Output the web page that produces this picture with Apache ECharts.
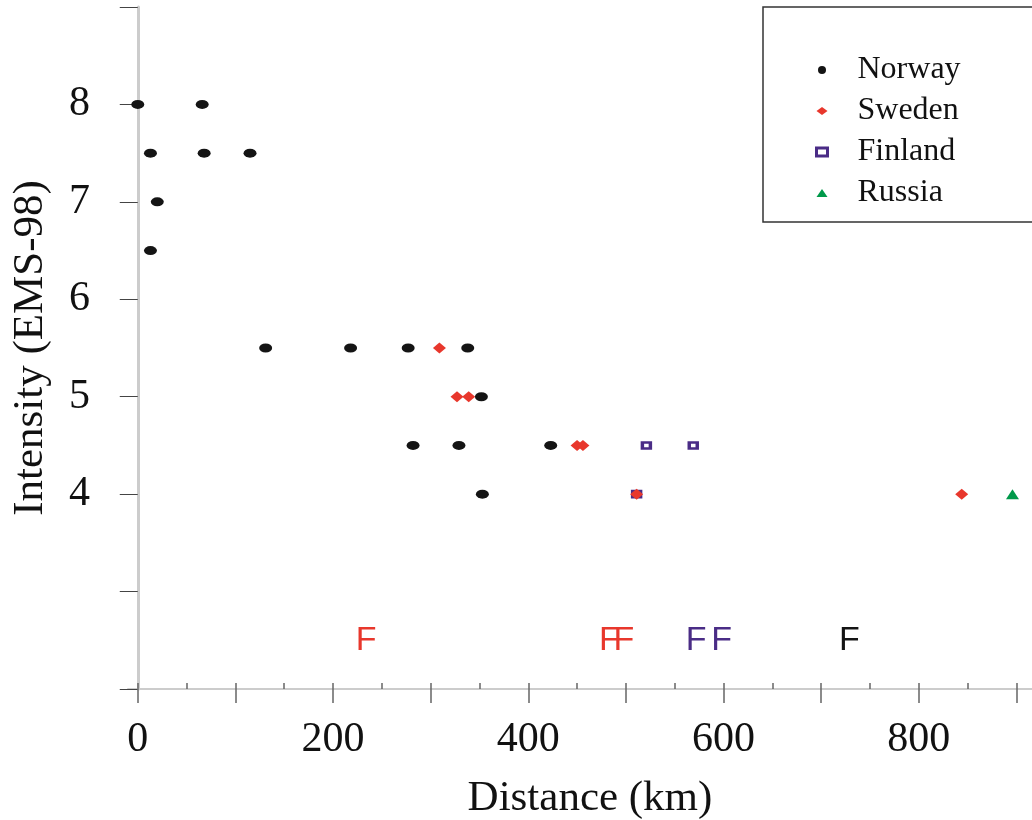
<!DOCTYPE html>
<html>
<head>
<meta charset="utf-8">
<script src="https://cdn.jsdelivr.net/npm/echarts@6/dist/echarts.min.js"></script>
<style>html,body{margin:0;padding:0;background:#fff}#c{width:1032px;height:820px}</style>
</head>
<body>
<div id="c"></div>
<script>
// ---- data (distance km, intensity EMS-98) ----
const norwayDist = [0, 66, 13, 68, 115, 20, 13, 131, 218, 277, 338, 352, 282, 329, 423, 353];
const norwayInt  = [8, 8, 7.5, 7.5, 7.5, 7, 6.5, 5.5, 5.5, 5.5, 5.5, 5, 4.5, 4.5, 4.5, 4];
const swedenDist = [309, 327, 339, 450, 456, 511, 844];
const swedenInt  = [5.5, 5, 5, 4.5, 4.5, 4, 4];
const finlandDist = [521, 569, 511];
const finlandInt  = [4.5, 4.5, 4];
const russiaDist = [896];
const russiaInt  = [4];
// felt reports ("F") without intensity, drawn on a row below
const feltRow = 2.5;
const feltNorwayDist = [729];
const feltSwedenDist = [234, 483, 498];
const feltFinlandDist = [572, 598];
// axis ticks / labels
const xTickValues = [0, 100, 200, 300, 400, 500, 600, 700, 800, 900];
const xMinorTickValues = [0, 50, 100, 150, 200, 250, 300, 350, 400, 450, 500, 550, 600, 650, 700, 750, 800, 850, 900];
const xLabelValues = [0, 200, 400, 600, 800];
const yLabelValues = [4, 5, 6, 7, 8];
const legendNames = ['Norway', 'Sweden', 'Finland', 'Russia'];

const zip = (xs, ys) => xs.map((x, i) => [x, ys[i]]);
const feltPts = xs => xs.map(x => [x, feltRow]);

const C = { Norway: '#141414', Sweden: '#e8372c', Finland: '#4a2c86', Russia: '#00994a' };
const serif = '"Liberation Serif", "Times New Roman", serif';
const sans = '"Liberation Sans", Arial, sans-serif';

function feltSeries(name, pts, color) {
  return {
    name: name, type: 'scatter', data: pts, symbol: 'circle', symbolSize: 0.1,
    itemStyle: { color: 'transparent', opacity: 1 }, silent: true, z: 3,
    emphasis: { disabled: true },
    label: { show: true, position: 'inside', formatter: 'F', color: color, opacity: 1,
             fontFamily: sans, fontSize: 34 }
  };
}

const legendData = legendNames.map(n => n === 'Finland'
  ? { name: n, itemStyle: { color: '#fff', borderColor: C.Finland, borderWidth: 3 } }
  : { name: n });

const chart = echarts.init(document.getElementById('c'));
chart.setOption({
  animation: false,
  backgroundColor: '#fff',
  grid: { left: 128, right: 0, top: 7, bottom: 131, containLabel: false, outerBoundsMode: 'none' },
  xAxis: [{
    type: 'value', min: -10, max: 916, position: 'bottom',
    name: 'Distance (km)', nameLocation: 'middle', nameGap: 88,
    nameTextStyle: { fontFamily: serif, fontSize: 43, color: '#111', padding: [0, 0, 0, 20] },
    axisLine: { show: true, lineStyle: { color: '#cccccc', width: 2 } },
    axisTick: { show: true, inside: false, length: 14, customValues: xTickValues, lineStyle: { color: '#666', width: 1.5 } },
    axisLabel: { customValues: xLabelValues, margin: 30, fontFamily: serif, fontSize: 42, color: '#111' },
    splitLine: { show: false }
  }, {
    type: 'value', min: -10, max: 916, position: 'bottom',
    axisLine: { show: false },
    axisTick: { show: true, inside: true, length: 6, customValues: xMinorTickValues, lineStyle: { color: '#666', width: 1.5 } },
    axisLabel: { show: false }, splitLine: { show: false }
  }],
  yAxis: {
    type: 'value', min: 2, max: 9, interval: 1,
    name: 'Intensity (EMS-98)', nameLocation: 'middle', nameGap: 76,
    nameTextStyle: { fontFamily: serif, fontSize: 43, color: '#111' },
    axisLine: { show: true, lineStyle: { color: '#cccccc', width: 3 } },
    axisTick: { show: true, inside: false, length: 18, lineStyle: { color: '#444', width: 1 } },
    axisLabel: { customValues: yLabelValues, margin: 38, fontFamily: serif, fontSize: 42, color: '#111' },
    splitLine: { show: false }
  },
  legend: {
    data: legendData, orient: 'vertical', left: 810, top: 49,
    itemWidth: 11, itemHeight: 8, itemGap: 9,
    textStyle: { fontFamily: serif, fontSize: 32, color: '#111', padding: [0, 0, 0, 25] },
    selectedMode: false
  },
  graphic: [{
    type: 'rect', shape: { x: 763, y: 7, width: 300, height: 215 },
    style: { fill: '#fff', stroke: '#333', lineWidth: 1.5 }, z: -1, silent: true
  }],
  series: [
    { name: 'Finland', type: 'scatter', data: zip(finlandDist, finlandInt), symbol: 'rect', symbolSize: [8, 6],
      itemStyle: { color: '#fff', borderColor: C.Finland, borderWidth: 3, opacity: 1 }, z: 2, emphasis: { disabled: true } },
    { name: 'Sweden', type: 'scatter', data: zip(swedenDist, swedenInt), symbol: 'diamond', symbolSize: [13, 11],
      itemStyle: { color: C.Sweden, opacity: 1 }, z: 3, emphasis: { disabled: true } },
    { name: 'Norway', type: 'scatter', data: zip(norwayDist, norwayInt), symbol: 'circle', symbolSize: [13, 9],
      itemStyle: { color: C.Norway, opacity: 1 }, z: 4, emphasis: { disabled: true } },
    { name: 'Russia', type: 'scatter', data: zip(russiaDist, russiaInt), symbol: 'triangle', symbolSize: [13, 10],
      itemStyle: { color: C.Russia, opacity: 1 }, z: 4, emphasis: { disabled: true } },
    feltSeries('Sweden felt', feltPts(feltSwedenDist), C.Sweden),
    feltSeries('Finland felt', feltPts(feltFinlandDist), C.Finland),
    feltSeries('Norway felt', feltPts(feltNorwayDist), C.Norway)
  ]
});
</script>
</body>
</html>
